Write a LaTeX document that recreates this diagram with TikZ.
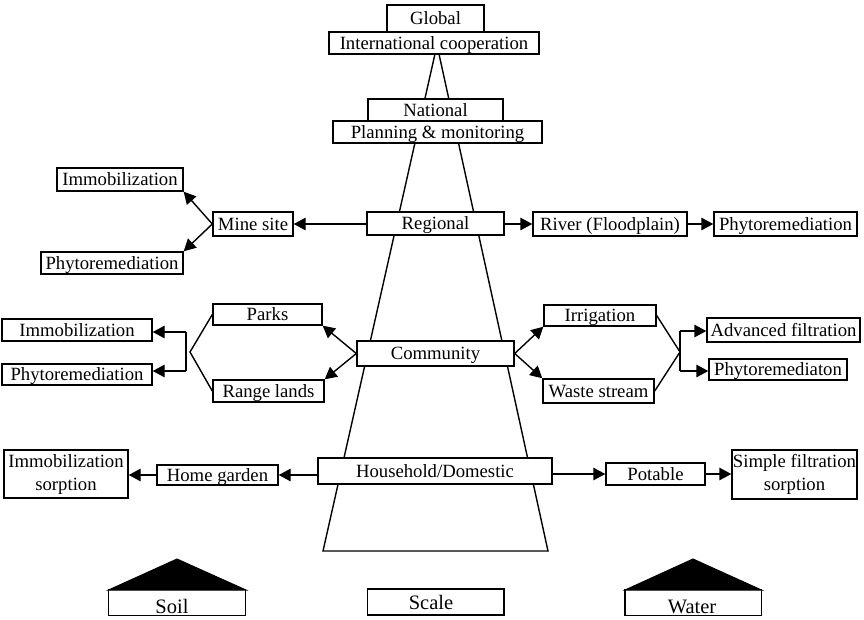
\documentclass[tikz,border=0pt]{standalone}
\usepackage{fontspec}
\setmainfont{Liberation Serif}
\usetikzlibrary{arrows.meta}
\begin{document}
\begin{tikzpicture}[x=1pt,y=-1pt,
  box/.style={draw,fill=white,line width=1.4pt,inner sep=0pt,
    font=\fontsize{18.7}{23}\selectfont,text height=12.5pt,text depth=0pt},
  twoline/.style={draw,fill=white,line width=1.4pt,inner sep=0pt,align=center,
    font=\fontsize{18.7}{23}\selectfont},
  legend/.style={draw,line width=1.4pt,inner sep=0pt,minimum height=26pt},
  legendtext/.style={font=\fontsize{20.5}{23}\selectfont,inner sep=0pt,anchor=base},
  line/.style={line width=1.4pt},
  arr/.style={line width=1.4pt,-{Triangle[length=12pt,width=12.5pt]}},
  roof/.style={fill=black,draw=black,line width=1pt}]
\useasboundingbox (0,0) rectangle (864,619);

% scale funnel behind the boxes
\draw[line,line join=miter] (437,45) -- (323,551) -- (548,551) -- cycle;

% central levels
\node[box,minimum width=97pt,minimum height=27pt] (glob) at (435.5,18.5) {Global};
\node[box,minimum width=210pt,minimum height=22pt] (intl) at (434,43) {International cooperation};
\node[box,minimum width=135pt,minimum height=22pt] (natl) at (435.5,110) {National};
\node[box,minimum width=209pt,minimum height=22pt] (plan) at (437.5,132) {Planning \& monitoring};
\node[box,minimum width=137pt,minimum height=23pt] (reg) at (435.5,223.5) {Regional};
\node[box,minimum width=157pt,minimum height=25pt] (comm) at (435.5,353.5) {Community};
\node[box,minimum width=234pt,minimum height=26pt] (hh) at (435,471) {Household/Domestic};

% regional branch
\node[box,minimum width=80pt,minimum height=24pt] (mine) at (253,224) {Mine site};
\node[box,minimum width=126pt,minimum height=23pt] (immA) at (120,179.5) {Immobilization};
\node[box,minimum width=142pt,minimum height=22pt] (phyA) at (112,263) {Phytoremediation};
\node[box,minimum width=154pt,minimum height=24pt] (river) at (610,224) {River (Floodplain)};
\node[box,minimum width=143pt,minimum height=24pt] (phyB) at (785.5,224) {Phytoremediation};

\draw[arr] (reg.west |- mine.east) -- (mine.east);
\draw[arr] (mine.west) -- (immA.south east);
\draw[arr] (mine.west) -- (phyA.north east);
\draw[arr] (reg.east |- river.west) -- (river.west);
\draw[arr] (river.east) -- (phyB.west);

% community branch
\node[box,minimum width=109pt,minimum height=21pt] (parks) at (267.5,314.5) {Parks};
\node[box,minimum width=111pt,minimum height=22pt] (range) at (268.5,391) {Range lands};
\node[box,minimum width=150pt,minimum height=22pt] (immB) at (77,330) {Immobilization};
\node[box,minimum width=150pt,minimum height=21pt] (phyC) at (77,374.5) {Phytoremediation};
\node[box,minimum width=112pt,minimum height=21pt] (irr) at (600,315.5) {Irrigation};
\node[box,minimum width=111pt,minimum height=24pt] (waste) at (598.5,391) {Waste stream};
\node[box,minimum width=153pt,minimum height=24pt] (adv) at (783.5,330) {Advanced filtration};
\node[box,minimum width=138pt,minimum height=21pt] (phyD) at (778,369.5) {Phytoremediaton};

\coordinate (lv) at (190,352);
\coordinate (lt) at (186,332);
\coordinate (lb) at (186,371);
\coordinate (rv) at (680,352);
\coordinate (rt) at (680,331);
\coordinate (rb) at (680,371);

\draw[arr] (comm.west) -- (parks.south east);
\draw[arr] (comm.west) -- (range.north east);
\draw[arr] (comm.east) -- (irr.south west);
\draw[arr] (comm.east) -- (waste.north west);
\draw[line] (parks.west) -- (lv) -- (range.west);
\draw[line] (irr.east) -- (rv) -- (waste.east);
\draw[line] (lt) -- (lb);
\draw[arr] (lt) -- (immB.east |- lt);
\draw[arr] (lb) -- (phyC.east |- lb);
\draw[line] (rt) -- (rb);
\draw[arr] (rt) -- (adv.west |- rt);
\draw[arr] (rb) -- (phyD.west |- rb);

% household branch
\node[box,minimum width=121pt,minimum height=20pt] (hg) at (217.5,475) {Home garden};
\node[twoline,minimum width=124pt,minimum height=48pt] (immS) at (66,474) {Immobilization\\sorption};
\node[box,minimum width=99pt,minimum height=22pt] (pot) at (655.5,474) {Potable};
\node[twoline,minimum width=125pt,minimum height=49pt] (simp) at (794.5,474.5) {Simple filtration\\sorption};

\draw[arr] (hh.west |- hg.east) -- (hg.east);
\draw[arr] (hg.west) -- (immS.east |- hg.west);
\draw[arr] (hh.east |- pot.west) -- (pot.west);
\draw[arr] (pot.east) -- (simp.west |- pot.east);

% legend
\draw[roof] (108.5,590) -- (177,559) -- (246,590) -- cycle;
\draw[roof] (625,590) -- (693,559) -- (761.5,590) -- cycle;
\node[legend,minimum width=137.5pt] (soil) at (177,602.5) {};
\node[legend,minimum width=136.5pt] (scale) at (435.75,602) {};
\node[legend,minimum width=136.5pt] (water) at (693.25,602.5) {};
\node[legendtext] (soilT) at (172,613) {Soil};
\node[legendtext] (scaleT) at (431,609) {Scale};
\node[legendtext] (waterT) at (692,613) {Water};
\end{tikzpicture}
\end{document}
